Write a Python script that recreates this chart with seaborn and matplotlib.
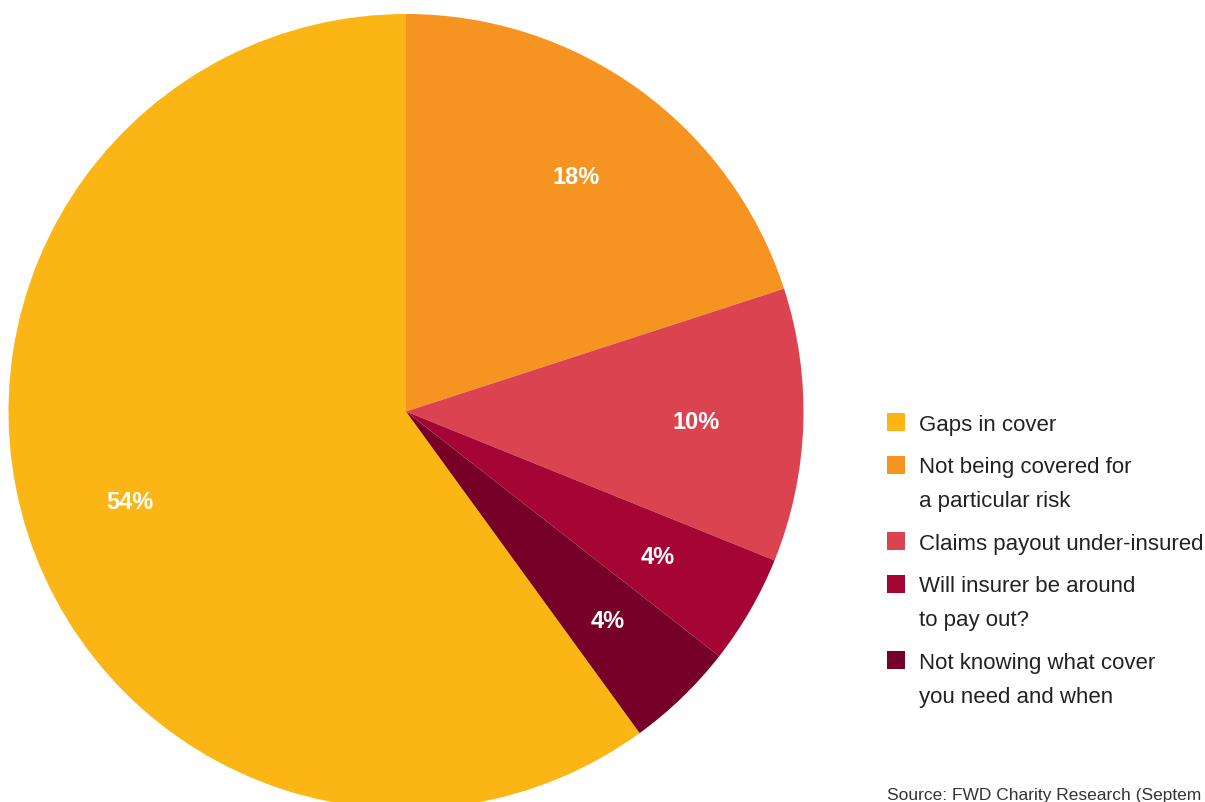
import matplotlib
matplotlib.use("Agg")
import matplotlib.pyplot as plt
from matplotlib.patches import Rectangle
import seaborn as sns

categories = ["Gaps in cover",
              "Not being covered for\na particular risk",
              "Claims payout under-insured",
              "Will insurer be around\nto pay out?",
              "Not knowing what cover\nyou need and when"]
values = [54, 18, 10, 4, 4]
pct_labels = ["54%", "18%", "10%", "4%", "4%"]
colors = ["#FBB615", "#F59420", "#DB4350", "#A50534", "#770029"]
source_text = "Source: FWD Charity Research (Septem"

sns.set_theme(style="white")
plt.rcParams['font.family'] = ['Liberation Sans', 'DejaVu Sans']

W, H = 1205, 803
fig = plt.figure(figsize=(W / 100, H / 100), dpi=100)
fig.patch.set_facecolor("white")

cx, cy, r = 406, 412.5, 397.5
ax = fig.add_axes([(cx - r) / W, (H - cy - r) / H, 2 * r / W, 2 * r / H])

start = 90 + 360 * values[0] / sum(values)
wedges, texts = ax.pie(values, colors=colors, startangle=start, counterclock=False,
                       labels=pct_labels, labeldistance=0.73,
                       wedgeprops=dict(linewidth=0),
                       textprops=dict(color="white", fontsize=17, fontweight="bold",
                                      va="center"))
for t in texts:
    t.set_horizontalalignment("center")
ax.set_xlim(-1, 1)
ax.set_ylim(-1, 1)
ax.set_aspect("equal")
ax.axis("off")

# Legend (manual layout to match line spacing of the reference)
sq = 18
x_sq, x_txt = 887, 919
y = 423.0
line_h, item_gap = 34, 42.5
for cat, col in zip(categories, colors):
    fig.add_artist(Rectangle(((x_sq) / W, (H - y - sq / 2) / H), sq / W, sq / H,
                             transform=fig.transFigure, facecolor=col,
                             edgecolor="none"))
    lines = cat.split("\n")
    for j, ln in enumerate(lines):
        fig.text(x_txt / W, (H - (y + 8 + j * line_h)) / H, ln, fontsize=16,
                 color="#222222", ha="left", va="baseline")
    y += (len(lines) - 1) * line_h + item_gap

fig.text(887 / W, (H - 800) / H, source_text, fontsize=12.5, color="#333333",
         ha="left", va="baseline")

fig.savefig("out.png", dpi=100, facecolor="white")
